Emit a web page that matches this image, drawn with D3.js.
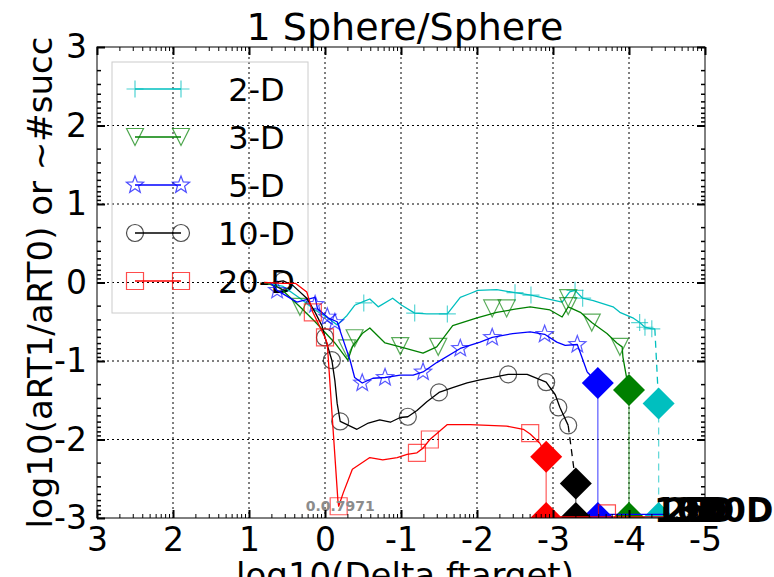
<!DOCTYPE html>
<html>
<head>
<meta charset="utf-8">
<script src="https://cdn.jsdelivr.net/npm/d3@7"></script>
<style>
  body { margin: 0; background: #fff; }
  text { font-family: "DejaVu Sans", sans-serif; }
</style>
</head>
<body>
<svg id="chart" width="774" height="577"></svg>
<script>
// ---- data -------------------------------------------------------------
const title = "1 Sphere/Sphere";
const xLabel = "log10(Delta ftarget)";
const yLabel = "log10(aRT1/aRT0) or ~#succ";
const legendLabels = [" 2-D", " 3-D", " 5-D", "10-D", "20-D"];
const dimTags = ["2D", "3D", "5D", "10D", "20D"];
const colors = ["#00bfbf", "#008000", "#0000ff", "#000000", "#ff0000"];
const xTicks = [3, 2, 1, 0, -1, -2, -3, -4, -5];
const yTicks = [3, 2, 1, 0, -1, -2, -3];

// log10 of aRT ratio versus log10 of target precision, one line per dimension
const line2D = [[0.80,0.00],[0.55,-0.05],[0.33,-0.20],[0.13,-0.35],[-0.03,-0.45],[-0.16,-0.54],[-0.29,-0.42],[-0.39,-0.29],[-0.51,-0.24],[-0.59,-0.21],[-0.70,-0.31],[-0.89,-0.20],[-1.01,-0.29],[-1.18,-0.39],[-1.34,-0.40],[-1.61,-0.40],[-1.78,-0.19],[-1.91,-0.14],[-2.01,-0.10],[-2.26,-0.09],[-2.50,-0.13],[-2.71,-0.16],[-3.12,-0.25],[-3.22,-0.12],[-3.29,-0.10],[-3.39,-0.20],[-3.53,-0.23],[-3.79,-0.31],[-3.88,-0.38],[-4.05,-0.45],[-4.14,-0.51],[-4.21,-0.57],[-4.30,-0.59],[-4.34,-0.59]];
const line3D = [[0.80,0.00],[0.59,-0.07],[0.33,-0.31],[0.13,-0.50],[-0.13,-0.77],[-0.30,-0.99],[-0.36,-0.82],[-0.49,-0.65],[-0.59,-0.58],[-0.79,-0.77],[-0.99,-0.82],[-1.29,-0.90],[-1.47,-0.82],[-1.68,-0.55],[-2.00,-0.45],[-2.26,-0.38],[-2.50,-0.34],[-2.70,-0.31],[-2.96,-0.35],[-3.12,-0.44],[-3.20,-0.31],[-3.36,-0.38],[-3.51,-0.51],[-3.71,-0.65],[-3.84,-0.77],[-3.91,-0.82],[-3.92,-0.95],[-3.97,-1.22]];
const line5D = [[0.72,0.00],[0.63,-0.10],[0.37,-0.25],[0.13,-0.19],[0.10,-0.33],[-0.04,-0.45],[-0.16,-0.50],[-0.20,-0.62],[-0.33,-0.99],[-0.39,-1.21],[-0.49,-1.28],[-0.63,-1.22],[-0.79,-1.21],[-0.99,-1.18],[-1.16,-1.18],[-1.29,-1.14],[-1.47,-1.02],[-1.78,-0.84],[-2.04,-0.76],[-2.20,-0.70],[-2.47,-0.65],[-2.70,-0.63],[-2.89,-0.66],[-3.05,-0.76],[-3.16,-0.80],[-3.32,-0.79],[-3.45,-1.14]];
const line10D = [[0.68,0.00],[0.55,0.02],[0.42,-0.04],[0.24,-0.20],[0.13,-0.38],[0.04,-0.55],[0.00,-0.70],[-0.09,-0.99],[-0.13,-1.25],[-0.16,-1.54],[-0.20,-1.77],[-0.42,-1.87],[-0.57,-1.79],[-0.72,-1.75],[-0.86,-1.78],[-0.99,-1.72],[-1.09,-1.71],[-1.21,-1.63],[-1.34,-1.52],[-1.50,-1.40],[-1.68,-1.34],[-1.87,-1.28],[-2.04,-1.24],[-2.21,-1.21],[-2.41,-1.17],[-2.66,-1.17],[-2.91,-1.27],[-3.03,-1.43],[-3.09,-1.59],[-3.20,-1.82]];
const line20D = [[0.80,0.00],[0.55,-0.01],[0.39,-0.01],[0.24,-0.12],[0.16,-0.38],[0.00,-0.70],[-0.03,-0.78],[-0.17,-2.78],[-0.18,-2.85],[-0.24,-2.68],[-0.36,-2.38],[-0.59,-2.23],[-0.76,-2.26],[-0.95,-2.23],[-1.08,-2.19],[-1.21,-2.17],[-1.29,-2.11],[-1.38,-2.00],[-1.61,-1.81],[-1.91,-1.81],[-2.39,-1.83],[-2.61,-1.87],[-2.70,-1.93],[-2.83,-2.05]];

// marked points along each line
const marks2D = [[-0.51,-0.26],[-1.18,-0.39],[-1.61,-0.40],[-2.50,-0.13],[-2.71,-0.16],[-3.29,-0.10],[-3.39,-0.20],[-4.14,-0.51],[-4.21,-0.57],[-4.30,-0.59]];
const marks3D = [[0.33,-0.31],[-0.29,-0.84],[-0.39,-0.71],[-0.99,-0.81],[-1.49,-0.82],[-2.20,-0.33],[-2.39,-0.33],[-3.20,-0.20],[-3.20,-0.30],[-3.51,-0.51],[-3.88,-0.82]];
const marks5D = [[0.63,-0.10],[0.13,-0.28],[-0.03,-0.44],[-0.13,-0.51],[-0.49,-1.28],[-0.79,-1.21],[-1.29,-1.14],[-1.78,-0.84],[-2.20,-0.70],[-2.89,-0.66],[-3.32,-0.79]];
const marks10D = [[0.55,0.02],[0.00,-0.70],[-0.09,-0.99],[-0.20,-1.77],[-1.09,-1.71],[-1.50,-1.40],[-2.41,-1.17],[-2.91,-1.27],[-3.07,-1.59],[-3.20,-1.82]];
const marks20D = [[0.16,-0.38],[0.00,-0.70],[-0.18,-2.85],[-1.21,-2.17],[-1.38,-2.00],[-2.70,-1.92]];

// last target reached per dimension (diamond), dropped to the bottom
const endX = [-4.39, -4.00, -3.59, -3.30, -2.91];
const endY = [-1.54, -1.37, -1.28, -2.56, -2.22];
const tailDashed = [true, false, false, true, false];
const bottomY = -3;

// success-count traces along the bottom edge
const succ20D = [[-3.07,-2.985],[-4.46,-2.985]];
const succ20DMarks = [[-3.71,-2.94]];
const succ5D = [[-3.60,-2.955],[-4.46,-2.955]];

const noteText = "0.0.7971";
const notePos = [-0.20, -2.91];

// ---- layout -----------------------------------------------------------
const svg = d3.select("#chart");
const x = d3.scaleLinear().domain([3, -5]).range([97, 705]);
const y = d3.scaleLinear().domain([-3, 3]).range([518, 47]);
const [x0, x1] = x.range();
const [y1, y0] = y.range();

const lines = [line2D, line3D, line5D, line10D, line20D];
const marks = [marks2D, marks3D, marks5D, marks10D, marks20D];

svg.append("defs").append("clipPath").attr("id", "plotclip")
  .append("rect").attr("x", x0).attr("y", y0).attr("width", x1 - x0).attr("height", y1 - y0);

// grid
const grid = svg.append("g");
grid.selectAll(".gx").data(xTicks.slice(1, -1)).join("line")
  .attr("x1", d => x(d)).attr("x2", d => x(d)).attr("y1", y0).attr("y2", y1)
  .attr("stroke", "#000").attr("stroke-width", 1).attr("stroke-dasharray", "2,3");
grid.selectAll(".gy").data(yTicks.slice(1, -1)).join("line")
  .attr("y1", d => y(d)).attr("y2", d => y(d)).attr("x1", x0).attr("x2", x1)
  .attr("stroke", "#000").attr("stroke-width", 1).attr("stroke-dasharray", "2,3");

// marker shapes
function markerPath(kind, s) {
  if (kind === 0) return `M${-s},0H${s}M0,${-s}V${s}`;
  if (kind === 1) return `M${-s},${-s}L${s},${-s}L0,${s}Z`;
  if (kind === 2) {
    let p = "";
    for (let i = 0; i < 10; i++) {
      const r = i % 2 ? s * 0.42 : s;
      const a = -Math.PI / 2 + i * Math.PI / 5;
      p += (i ? "L" : "M") + (r * Math.cos(a)).toFixed(2) + "," + (r * Math.sin(a)).toFixed(2);
    }
    return p + "Z";
  }
  if (kind === 3) return `M${s},0A${s},${s} 0 1,1 ${-s},0A${s},${s} 0 1,1 ${s},0Z`;
  return `M${-s},${-s}H${s}V${s}H${-s}Z`;
}
const markerSize = [8.5, 8.5, 9, 8.5, 8.5];
function shape(i) { return markerPath(i, markerSize[i]); }

// legend
const leg = svg.append("g");
leg.append("rect").attr("x", 112).attr("y", 62).attr("width", 196).attr("height", 251)
  .attr("fill", "none").attr("stroke", "#cccccc").attr("stroke-width", 1);
legendLabels.forEach((lab, i) => {
  const cy = 89 + i * 48;
  leg.append("line").attr("x1", 135).attr("x2", 181).attr("y1", cy).attr("y2", cy)
    .attr("stroke", colors[i]).attr("stroke-width", 1.3);
  [135, 181].forEach(cx => leg.append("path").attr("d", shape(i))
    .attr("transform", `translate(${cx},${cy})`)
    .attr("fill", "none").attr("stroke", colors[i]).attr("stroke-opacity", 0.7).attr("stroke-width", 1.2));
  leg.append("text").attr("x", 218).attr("y", cy + 12).style("white-space", "pre")
    .attr("font-size", 32).attr("fill", "#000").text(lab);
});

// data lines, markers, tails
const plot = svg.append("g").attr("clip-path", "url(#plotclip)");
const lineGen = d3.line().x(d => x(d[0])).y(d => y(d[1]));
lines.forEach((pts, i) => {
  plot.append("path").attr("d", lineGen(pts)).attr("fill", "none")
    .attr("stroke", colors[i]).attr("stroke-width", 1.3).attr("stroke-linejoin", "round");
  plot.selectAll(null).data(marks[i]).join("path")
    .attr("d", shape(i))
    .attr("transform", d => `translate(${x(d[0])},${y(d[1])})`)
    .attr("fill", "none").attr("stroke", colors[i]).attr("stroke-opacity", 0.65).attr("stroke-width", 1.2);
});
lines.forEach((pts, i) => {
  const last = pts[pts.length - 1];
  const dash = tailDashed[i] ? "7,5" : null;
  plot.append("path").attr("d", lineGen([last, [endX[i], endY[i]]]))
    .attr("fill", "none").attr("stroke", colors[i]).attr("stroke-width", 1.3).attr("stroke-dasharray", dash);
  plot.append("path").attr("d", lineGen([[endX[i], endY[i]], [endX[i], bottomY]]))
    .attr("fill", "none").attr("stroke", colors[i]).attr("stroke-width", 1.3)
    .attr("stroke-opacity", 0.6).attr("stroke-dasharray", dash);
});
const dia = 16;
const diamond = `M0,${-dia}L${dia},0L0,${dia}L${-dia},0Z`;
endX.forEach((ex, i) => {
  [endY[i], bottomY].forEach(ey => plot.append("path").attr("d", diamond)
    .attr("transform", `translate(${x(ex)},${y(ey)})`).attr("fill", colors[i]));
});

// bottom success traces
plot.append("path").attr("d", lineGen(succ5D)).attr("fill", "none")
  .attr("stroke", colors[2]).attr("stroke-width", 1.3);
plot.append("path").attr("d", lineGen(succ20D)).attr("fill", "none")
  .attr("stroke", colors[4]).attr("stroke-width", 1.3);
plot.selectAll(null).data(succ20DMarks).join("path").attr("d", shape(4))
  .attr("transform", d => `translate(${x(d[0])},${y(d[1])})`)
  .attr("fill", "none").attr("stroke", colors[4]).attr("stroke-opacity", 0.7).attr("stroke-width", 1.2);

// note near the bottom
svg.append("text").attr("x", x(notePos[0])).attr("y", y(notePos[1]))
  .attr("text-anchor", "middle").attr("font-size", 14).attr("font-weight", "bold")
  .attr("fill", "#8c8c8c").text(noteText);

// dimension tags at the right end, stacked at the bottom edge
const tagX = [664, 674, 684, 654, 700];
dimTags.forEach((t, i) => {
  svg.append("text").attr("x", tagX[i]).attr("y", 522).attr("font-size", 33)
    .attr("font-weight", "bold").attr("fill", "#000").text(t);
});

// axes frame
svg.append("rect").attr("x", x0).attr("y", y0).attr("width", x1 - x0).attr("height", y1 - y0)
  .attr("fill", "none").attr("stroke", "#000").attr("stroke-width", 1);

// minor ticks (log spaced)
const minor = [];
for (let k = 3; k >= -2; k--) for (let m = 2; m <= 9; m++) minor.push(k - Math.log10(m));
const minorX = [];
for (let k = 3; k >= -4; k--) for (let m = 2; m <= 9; m++) minorX.push(k - Math.log10(m));
const tk = svg.append("g").attr("stroke", "#000");
minor.forEach(v => {
  tk.append("line").attr("x1", x0).attr("x2", x0 + 4).attr("y1", y(v)).attr("y2", y(v)).attr("stroke-width", 1.5);
  tk.append("line").attr("x1", x1).attr("x2", x1 - 4).attr("y1", y(v)).attr("y2", y(v)).attr("stroke-width", 1.5);
});
minorX.forEach(v => {
  tk.append("line").attr("y1", y1).attr("y2", y1 - 4).attr("x1", x(v)).attr("x2", x(v)).attr("stroke-width", 1);
  tk.append("line").attr("y1", y0).attr("y2", y0 + 4).attr("x1", x(v)).attr("x2", x(v)).attr("stroke-width", 1);
});

// major ticks and labels
const fmt = d => String(d);
const axB = svg.append("g").attr("transform", `translate(0,${y1})`)
  .call(d3.axisBottom(x).tickValues(xTicks).tickFormat(fmt).tickSize(-8).tickSizeOuter(0).tickPadding(10));
const axL = svg.append("g").attr("transform", `translate(${x0},0)`)
  .call(d3.axisLeft(y).tickValues(yTicks).tickFormat(fmt).tickSize(-8).tickSizeOuter(0).tickPadding(10));
const axT = svg.append("g").attr("transform", `translate(0,${y0})`)
  .call(d3.axisTop(x).tickValues(xTicks).tickFormat("").tickSize(-8).tickSizeOuter(0));
const axR = svg.append("g").attr("transform", `translate(${x1},0)`)
  .call(d3.axisRight(y).tickValues(yTicks).tickFormat("").tickSize(-8).tickSizeOuter(0));
[axB, axL, axT, axR].forEach(g => {
  g.select(".domain").remove();
  g.selectAll(".tick line").attr("stroke-width", 2);
  g.selectAll("text").attr("font-size", 33).attr("fill", "#000").attr("font-family", "DejaVu Sans");
});

// titles
svg.append("text").attr("x", 405).attr("y", 40).attr("text-anchor", "middle")
  .attr("font-size", 38).attr("fill", "#000").text(title);
svg.append("text").attr("x", 405).attr("y", 587).attr("text-anchor", "middle")
  .attr("font-size", 34).attr("fill", "#000").text(xLabel);
svg.append("text").attr("transform", `translate(52,${(y0 + y1) / 2}) rotate(-90)`)
  .attr("text-anchor", "middle").attr("font-size", 34).attr("fill", "#000").text(yLabel);
</script>
</body>
</html>
